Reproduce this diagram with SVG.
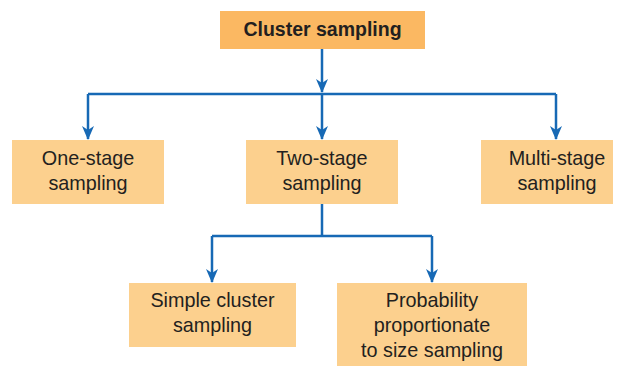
<svg xmlns="http://www.w3.org/2000/svg" width="618" height="366" viewBox="0 0 618 366">
<style>
.top{fill:#FBB862}
.box{fill:#FCD08E}
.t{font-family:"Liberation Sans",Arial,sans-serif;font-size:19.8px;fill:#231F20;text-anchor:middle}
.b{font-weight:bold;font-size:19.5px}
.c{fill:none;stroke:#1769B5;stroke-width:2.5}
</style>
<defs>
<marker id="ah" viewBox="0 0 14 14" refX="13" refY="7" markerWidth="14" markerHeight="14" markerUnits="userSpaceOnUse" orient="auto">
<path d="M0,1 L14,7 L0,13 L4,7 Z" fill="#1769B5"/>
</marker>
</defs>
<g id="connectors">
<path class="c" d="M322,49 V92" marker-end="url(#ah)"/>
<path class="c" d="M88,94 H556"/>
<path class="c" d="M88,94 V139" marker-end="url(#ah)"/>
<path class="c" d="M322,94 V139" marker-end="url(#ah)"/>
<path class="c" d="M556,94 V139" marker-end="url(#ah)"/>
<path class="c" d="M322,204 V236"/>
<path class="c" d="M212,236 H432"/>
<path class="c" d="M212,236 V282" marker-end="url(#ah)"/>
<path class="c" d="M432,236 V282" marker-end="url(#ah)"/>
</g>
<g id="cluster">
<rect class="top" x="220" y="11" width="205" height="38"/>
<text class="t b" x="322.5" y="36">Cluster sampling</text>
</g>
<g id="one-stage">
<rect class="box" x="12" y="140" width="152" height="64"/>
<text class="t" x="88" y="165">One-stage</text>
<text class="t" x="88" y="190">sampling</text>
</g>
<g id="two-stage">
<rect class="box" x="246" y="140" width="152" height="64"/>
<text class="t" x="322" y="165">Two-stage</text>
<text class="t" x="322" y="190">sampling</text>
</g>
<g id="multi-stage">
<rect class="box" x="481" y="140" width="132" height="64"/>
<text class="t" x="557" y="165">Multi-stage</text>
<text class="t" x="557" y="190">sampling</text>
</g>
<g id="simple-cluster">
<rect class="box" x="129" y="283" width="167" height="64"/>
<text class="t" x="212.5" y="307">Simple cluster</text>
<text class="t" x="212.5" y="332">sampling</text>
</g>
<g id="pps">
<rect class="box" x="337" y="283" width="190" height="83"/>
<text class="t" x="432" y="307">Probability</text>
<text class="t" x="432" y="332">proportionate</text>
<text class="t" x="432" y="357">to size sampling</text>
</g>
</svg>
